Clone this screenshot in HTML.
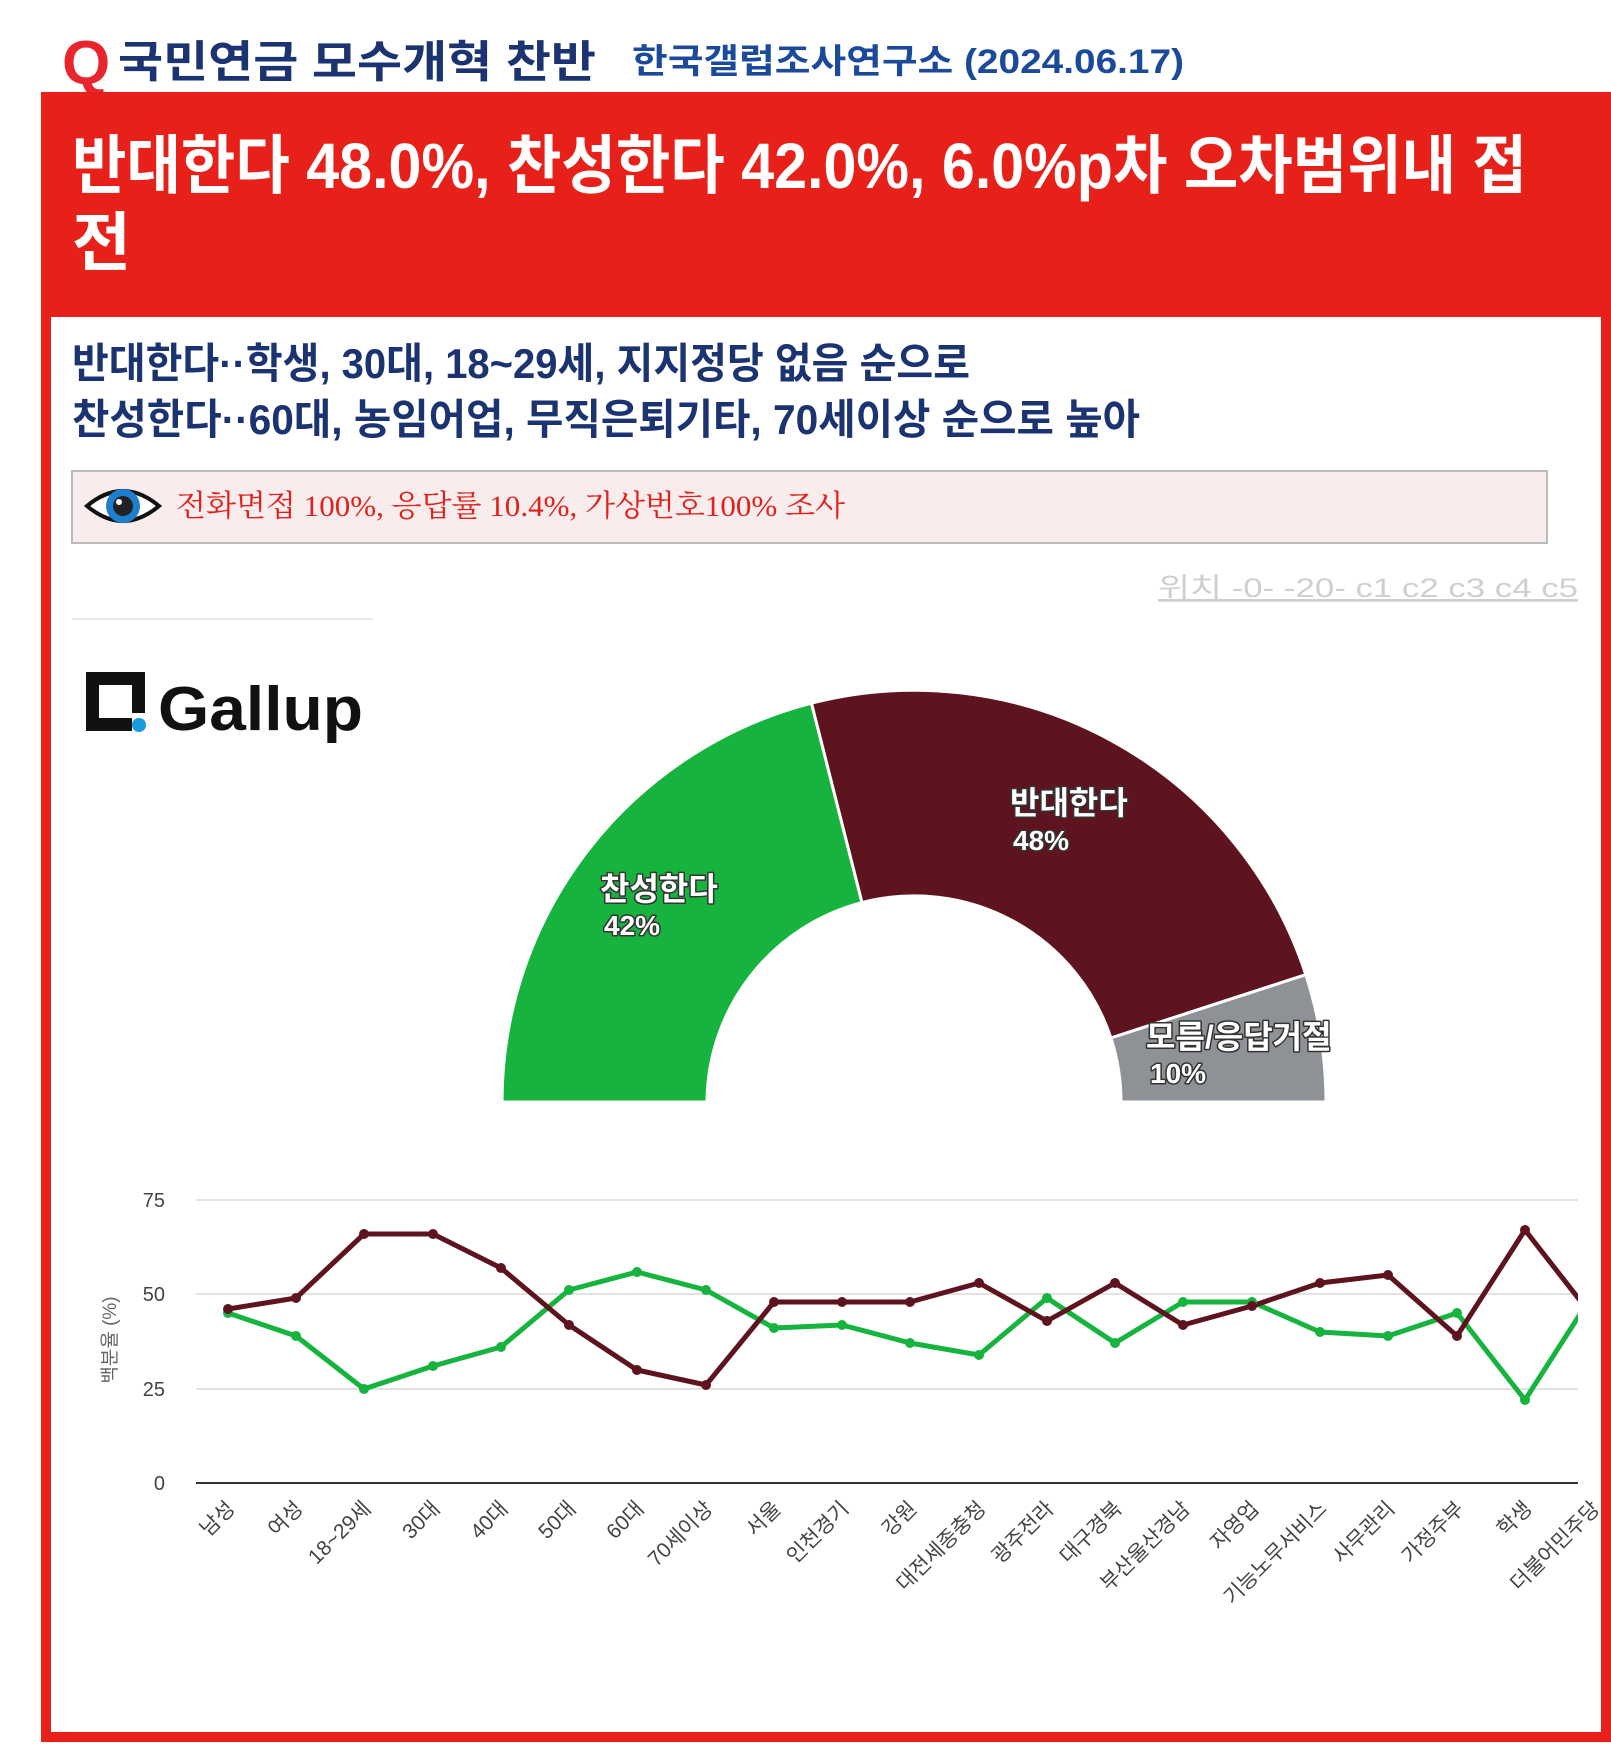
<!DOCTYPE html>
<html><head><meta charset="utf-8"><style>
html,body{margin:0;padding:0;background:#fff;width:1611px;height:1748px;overflow:hidden}
svg{display:block}
text{font-family:"Liberation Sans","Noto Sans CJK KR",sans-serif}
</style></head><body>
<svg width="1611" height="1748" viewBox="0 0 1611 1748" xmlns="http://www.w3.org/2000/svg">
<rect width="1611" height="1748" fill="#fff"/>
<text x="62" y="84" font-size="62" font-weight="bold" fill="#e8242c">Q</text>
<text x="118" y="77" font-size="44" font-weight="bold" fill="#1b3370" textLength="478" lengthAdjust="spacingAndGlyphs">국민연금 모수개혁 찬반</text>
<text x="632" y="73" font-size="34" font-weight="bold" fill="#1c4a9a" textLength="552" lengthAdjust="spacingAndGlyphs">한국갤럽조사연구소 (2024.06.17)</text>
<rect x="41" y="97" width="1570" height="220" fill="#e8201a"/>
<rect x="46" y="97" width="1560" height="1640" fill="none" stroke="#e8201a" stroke-width="10"/>
<text x="72" y="188" font-size="64" font-weight="bold" fill="#fff" textLength="1455" lengthAdjust="spacingAndGlyphs">반대한다 48.0%, 찬성한다 42.0%, 6.0%p차 오차범위내 접</text>
<text x="72" y="265" font-size="64" font-weight="bold" fill="#fff">전</text>
<text x="72" y="378" font-size="42" font-weight="bold" fill="#1b3370" textLength="898" lengthAdjust="spacingAndGlyphs">반대한다··학생, 30대, 18~29세, 지지정당 없음 순으로</text>
<text x="72" y="434" font-size="42" font-weight="bold" fill="#1b3370" textLength="1068" lengthAdjust="spacingAndGlyphs">찬성한다··60대, 농임어업, 무직은퇴기타, 70세이상 순으로 높아</text>
<rect x="72" y="471" width="1475" height="72" fill="#f9ecec" stroke="#bbb" stroke-width="2"/>
<g transform="translate(123,506)">
<path d="M-36,0 Q0,-30 36,0 Q0,30 -36,0Z" fill="#fff" stroke="#111" stroke-width="4"/>
<circle r="17" fill="#1e7fd0"/><circle r="10" fill="#222"/><circle cx="-4" cy="-4" r="3" fill="#fff"/>
</g>
<text x="176" y="516" font-size="30" fill="#e0201c" textLength="669" lengthAdjust="spacingAndGlyphs" style="font-family:'Liberation Serif','Noto Serif CJK SC',serif">전화면접 100%, 응답률 10.4%, 가상번호100% 조사</text>
<text x="1578" y="597" font-size="27" fill="#cfcfcf" text-anchor="end" text-decoration="underline" textLength="420" lengthAdjust="spacingAndGlyphs">위치 -0- -20- c1 c2 c3 c4 c5</text>
<line x1="72" y1="619" x2="373" y2="619" stroke="#e8e8e8" stroke-width="2"/>
<path d="M86,672 h59 v28 h-13 v-15 h-33 v33 h33 v13 h-46z" fill="#111"/>
<rect x="132" y="700" width="13" height="13" fill="#111"/>
<circle cx="139" cy="725" r="7" fill="#1a9ae0"/>
<text x="158" y="730" font-size="62" font-weight="bold" fill="#111" textLength="205" lengthAdjust="spacingAndGlyphs">Gallup</text>
<g stroke="#fff" stroke-width="3" stroke-linejoin="round">
<path d="M502,1102 A412,412 0 0 1 811.5,703.2 L862,902.6 A207,207 0 0 0 707,1102 Z" fill="#16b43e"/>
<path d="M811.5,703.2 A412,412 0 0 1 1305.8,974.7 L1110.9,1038 A207,207 0 0 0 862,902.6 Z" fill="#5e141e"/>
<path d="M1305.8,974.7 A412,412 0 0 1 1326,1102 L1121,1102 A207,207 0 0 0 1110.9,1038 Z" fill="#8e9195"/>
</g>
<g font-size="32" font-weight="bold" fill="#fff" stroke="#333" stroke-width="3" paint-order="stroke" stroke-linejoin="round">
<text x="600" y="900">찬성한다</text><text x="604" y="935" font-size="28">42%</text>
<text x="1010" y="814">반대한다</text><text x="1013" y="850" font-size="28">48%</text>
<text x="1146" y="1048">모름/응답거절</text><text x="1150" y="1083" font-size="28">10%</text>
</g>
<g stroke="#e2e2e2" stroke-width="2">
<line x1="196" y1="1200" x2="1578" y2="1200"/><line x1="196" y1="1294" x2="1578" y2="1294"/><line x1="196" y1="1389" x2="1578" y2="1389"/>
</g>
<line x1="196" y1="1483" x2="1578" y2="1483" stroke="#333" stroke-width="2"/>
<g font-size="20" fill="#444" text-anchor="end">
<text x="165" y="1207">75</text><text x="165" y="1301">50</text><text x="165" y="1396">25</text><text x="165" y="1490">0</text>
</g>
<text transform="translate(116,1340) rotate(-90)" font-size="19" fill="#666" text-anchor="middle">백분율 (%)</text>
<defs><clipPath id="c"><rect x="190" y="1150" width="1388" height="340"/></clipPath></defs>
<g clip-path="url(#c)" fill="none" stroke-width="5" stroke-linejoin="round">
<polyline stroke="#16b43e" points="228,1313 296,1336 364,1389 433,1366 501,1347 569,1290 637,1272 706,1290 774,1328 842,1325 910,1343 979,1355 1047,1298 1115,1343 1183,1302 1252,1302 1320,1332 1388,1336 1457,1313 1525,1400 1593,1294"/>
<polyline stroke="#5e141e" points="228,1309 296,1298 364,1234 433,1234 501,1268 569,1325 637,1370 706,1385 774,1302 842,1302 910,1302 979,1283 1047,1321 1115,1283 1183,1325 1252,1306 1320,1283 1388,1275 1457,1336 1525,1230 1593,1317"/>
</g>
<g clip-path="url(#c)">
<g fill="#16b43e">
<circle cx="228" cy="1313" r="5"/><circle cx="296" cy="1336" r="5"/><circle cx="364" cy="1389" r="5"/><circle cx="433" cy="1366" r="5"/><circle cx="501" cy="1347" r="5"/><circle cx="569" cy="1290" r="5"/><circle cx="637" cy="1272" r="5"/><circle cx="706" cy="1290" r="5"/><circle cx="774" cy="1328" r="5"/><circle cx="842" cy="1325" r="5"/><circle cx="910" cy="1343" r="5"/><circle cx="979" cy="1355" r="5"/><circle cx="1047" cy="1298" r="5"/><circle cx="1115" cy="1343" r="5"/><circle cx="1183" cy="1302" r="5"/><circle cx="1252" cy="1302" r="5"/><circle cx="1320" cy="1332" r="5"/><circle cx="1388" cy="1336" r="5"/><circle cx="1457" cy="1313" r="5"/><circle cx="1525" cy="1400" r="5"/>
</g>
<g fill="#5e141e">
<circle cx="228" cy="1309" r="5"/><circle cx="296" cy="1298" r="5"/><circle cx="364" cy="1234" r="5"/><circle cx="433" cy="1234" r="5"/><circle cx="501" cy="1268" r="5"/><circle cx="569" cy="1325" r="5"/><circle cx="637" cy="1370" r="5"/><circle cx="706" cy="1385" r="5"/><circle cx="774" cy="1302" r="5"/><circle cx="842" cy="1302" r="5"/><circle cx="910" cy="1302" r="5"/><circle cx="979" cy="1283" r="5"/><circle cx="1047" cy="1321" r="5"/><circle cx="1115" cy="1283" r="5"/><circle cx="1183" cy="1325" r="5"/><circle cx="1252" cy="1306" r="5"/><circle cx="1320" cy="1283" r="5"/><circle cx="1388" cy="1275" r="5"/><circle cx="1457" cy="1336" r="5"/><circle cx="1525" cy="1230" r="5"/>
</g>
</g>
<defs><clipPath id="c2"><rect x="0" y="1490" width="1598" height="200"/></clipPath></defs>
<g font-size="21" fill="#444" text-anchor="end" clip-path="url(#c2)">
<text transform="translate(236,1510) rotate(-45)">남성</text>
<text transform="translate(304,1510) rotate(-45)">여성</text>
<text transform="translate(372,1510) rotate(-45)">18~29세</text>
<text transform="translate(441,1510) rotate(-45)">30대</text>
<text transform="translate(509,1510) rotate(-45)">40대</text>
<text transform="translate(577,1510) rotate(-45)">50대</text>
<text transform="translate(645,1510) rotate(-45)">60대</text>
<text transform="translate(714,1510) rotate(-45)">70세이상</text>
<text transform="translate(782,1510) rotate(-45)">서울</text>
<text transform="translate(850,1510) rotate(-45)">인천경기</text>
<text transform="translate(918,1510) rotate(-45)">강원</text>
<text transform="translate(987,1510) rotate(-45)">대전세종충청</text>
<text transform="translate(1055,1510) rotate(-45)">광주전라</text>
<text transform="translate(1123,1510) rotate(-45)">대구경북</text>
<text transform="translate(1191,1510) rotate(-45)">부산울산경남</text>
<text transform="translate(1260,1510) rotate(-45)">자영업</text>
<text transform="translate(1328,1510) rotate(-45)">기능노무서비스</text>
<text transform="translate(1396,1510) rotate(-45)">사무관리</text>
<text transform="translate(1465,1510) rotate(-45)">가정주부</text>
<text transform="translate(1533,1510) rotate(-45)">학생</text>
<text transform="translate(1601,1510) rotate(-45)">더불어민주당</text>
</g>
</svg>
</body></html>
